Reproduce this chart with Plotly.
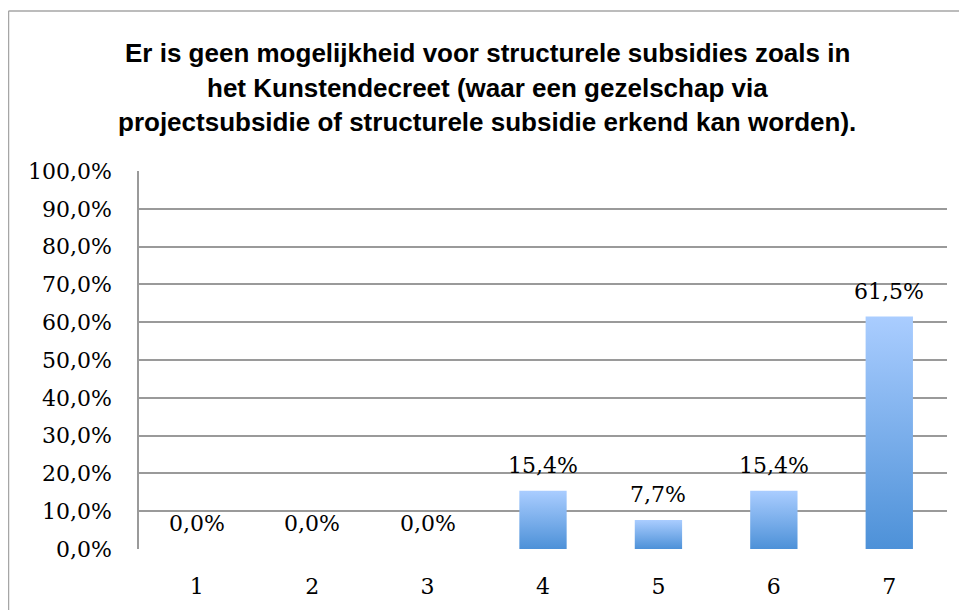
import plotly.graph_objects as go

categories = ["1", "2", "3", "4", "5", "6", "7"]
values = [0.0, 0.0, 0.0, 15.4, 7.7, 15.4, 61.5]
y_ticks = [0, 10, 20, 30, 40, 50, 60, 70, 80, 90, 100]
y_tick_labels = ["0,0%", "10,0%", "20,0%", "30,0%", "40,0%", "50,0%",
                 "60,0%", "70,0%", "80,0%", "90,0%", "100,0%"]
title_lines = [
    "Er is geen mogelijkheid voor structurele subsidies zoals in",
    "het Kunstendecreet (waar een gezelschap via",
    "projectsubsidie of structurele subsidie erkend kan worden).",
]

# page body has an 8px margin; figure is sized to fit the window
OFF = 8
W, H = 967 - OFF, 610 - OFF
ML, MR, MT, MB = 139 - OFF, 20, 171 - OFF, 61
PH = H - MT - MB
PW = W - ML - MR

BAR_HALF = 0.205
SERIF = "DejaVu Serif"

fig = go.Figure()

positions = list(range(1, len(categories) + 1))
for pos, v in zip(positions, values):
    fig.add_trace(go.Scatter(
        x=[pos - BAR_HALF, pos + BAR_HALF, pos + BAR_HALF, pos - BAR_HALF, pos - BAR_HALF],
        y=[0, 0, v, v, 0],
        fill="toself",
        mode="none",
        fillgradient=dict(type="vertical",
                          colorscale=[[0, "#4d91d8"], [1, "#aacdff"]]),
        hoverinfo="skip",
        showlegend=False,
    ))

annotations = []
for pos, v in zip(positions, values):
    annotations.append(dict(
        x=pos, y=v, xref="x", yref="y",
        text=f"{v:.1f}".replace(".", ",") + "%",
        showarrow=False, yanchor="bottom", yshift=11,
        font=dict(family=SERIF, size=22, color="#000000"),
    ))

def px_x(xw):
    return (xw - OFF - ML) / PW

def px_y(yw):
    return (H - MB - (yw - OFF)) / PH

title_y_px = [53, 88, 122]
for line, ypx in zip(title_lines, title_y_px):
    annotations.append(dict(
        x=px_x(487), y=px_y(ypx),
        xref="paper", yref="paper",
        text=f"<b>{line}</b>", showarrow=False,
        xanchor="center", yanchor="middle",
        font=dict(family="Liberation Sans", size=26, color="#000000"),
    ))

border_color = "#a6a6a6"
shapes = [
    dict(type="line", xref="paper", yref="paper",
         x0=px_x(8.5), x1=px_x(8.5),
         y0=px_y(11), y1=px_y(640),
         line=dict(color=border_color, width=1.5)),
    dict(type="line", xref="paper", yref="paper",
         x0=px_x(8.5), x1=px_x(1000),
         y0=px_y(11), y1=px_y(11),
         line=dict(color=border_color, width=1.5)),
]

fig.update_layout(
    width=W, height=H,
    margin=dict(l=ML, r=MR, t=MT, b=MB, pad=0),
    paper_bgcolor="white", plot_bgcolor="white",
    annotations=annotations,
    shapes=shapes,
    showlegend=False,
    xaxis=dict(
        range=[0.5, len(categories) + 0.5],
        tickmode="array", tickvals=positions, ticktext=categories,
        showgrid=False, zeroline=False,
        showline=False,
        ticks="", ticklabelstandoff=22,
        tickfont=dict(family=SERIF, size=22, color="#000000"),
        fixedrange=True,
    ),
    yaxis=dict(
        range=[0, 100],
        tickmode="array", tickvals=y_ticks, ticktext=y_tick_labels,
        showgrid=True, gridcolor="#9a9a9a", gridwidth=1.5,
        zeroline=False,
        showline=True, linecolor="#9a9a9a", linewidth=1.5,
        ticks="", ticklabelstandoff=21,
        tickfont=dict(family=SERIF, size=22, color="#000000"),
        fixedrange=True,
    ),
)

fig.write_html("out.html")
